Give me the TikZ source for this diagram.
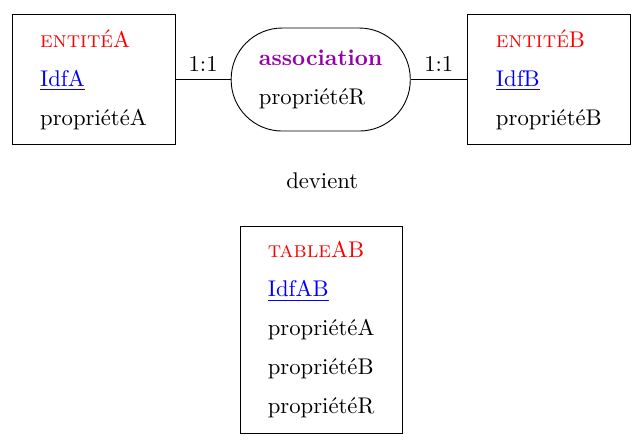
\documentclass[tikz,border=0pt]{standalone}
\usepackage{tikz}
\usetikzlibrary{positioning}
\usetikzlibrary{shapes.misc}
\definecolor{red}{RGB}{255,0,0}
\definecolor{blue}{RGB}{0,0,255}
\definecolor{assoc}{RGB}{150,0,170}

\begin{document}
\begin{tikzpicture}[
  entite/.style={draw, rectangle, align=left, minimum width=2.525cm, minimum height=2.0cm},
  relation/.style={draw, rectangle, rounded corners=0.79cm, align=left, minimum width=2.773cm, minimum height=1.595cm},
  card/.style={midway, above}
]

%---------------------------------------
% Shared macros
%---------------------------------------
\def\gap{5.2pt}
\newcommand{\titre}[2]{\textcolor{red}{\textsc{#1}#2}}
\newcommand{\idf}[1]{\textcolor{blue}{\underline{#1}}}

\useasboundingbox (0,0) rectangle (9.97,-6.83);

%====================================================
% MCD: two entities and one association
%====================================================
\node[entite] (entA) at (1.448,-1.231)
  {\titre{entité}{A}\\[\gap] \idf{IdfA}\\[\gap] propriétéA};

\node[relation] (assoc) at (4.965,-1.231)
  {\textcolor{assoc}{\textbf{association}}\\[\gap] propriétéR};

\node[entite] (entB) at (8.497,-1.231)
  {\titre{entité}{B}\\[\gap] \idf{IdfB}\\[\gap] propriétéB};

% Cardinalities
\draw (entA) -- (assoc) node[card] {1:1};
\draw (assoc) -- (entB) node[card] {1:1};

\node (devient) at (4.988,-2.804) {devient};

%====================================================
% Resulting table
%====================================================
\node[entite, minimum width=2.51cm, minimum height=3.206cm] (tabAB) at (4.972,-5.104)
  {\titre{table}{AB}\\[\gap] \idf{IdfAB}\\[\gap] propriétéA\\[\gap] propriétéB\\[\gap] propriétéR};

\end{tikzpicture}
\end{document}
